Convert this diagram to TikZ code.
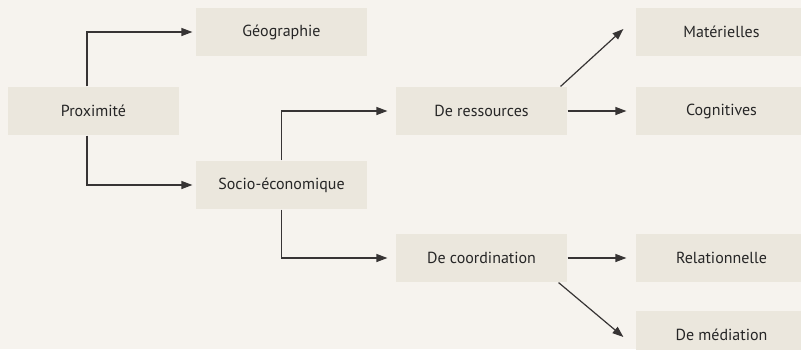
\documentclass[tikz,border=0pt]{standalone}
\usepackage{fontspec}
\setmainfont{PT Sans}
\usetikzlibrary{arrows.meta}
\definecolor{bgcol}{RGB}{246,243,238}
\definecolor{boxcol}{RGB}{235,231,221}
\definecolor{linecol}{RGB}{55,52,52}
\begin{document}
\begin{tikzpicture}[x=1pt, y=-1pt, line width=1.2pt, >={Triangle[length=11pt,width=8pt]},
		main/.style = {fill=boxcol, minimum width=171pt, minimum height=48pt, inner sep=0pt, font=\fontsize{16}{19}\selectfont, text=black!85}]
		\fill[bgcol] (0,0) rectangle (801,349);
		\useasboundingbox (0,0) rectangle (801,349);
		
		\node[main] (prox) at (93.5,111) {Proximité};
		\node[main] (geo) at (281.5,32) {Géographie};
		\node[main] (socio) at (281.5,185) {Socio-économique};
		
		\node[main] (res) at (481.5,111) {De ressources};
		\node[main] (coord) at (481.5,258) {De coordination};
		
		\node[main] (mat) at (721.5,32) {Matérielles};
		\node[main] (cog) at (721.5,111) {Cognitives};
		\node[main] (rel) at (721.5,258) {Relationnelle};
		\node[main] (med) at (721.5,335) {De médiation};
		
		
		\draw[->, linecol, shorten >=3pt] ([xshift=-6.5pt]prox.north) |- (geo);
		\draw[->, linecol, shorten >=3pt] ([xshift=-6.5pt]prox.south) |- (socio);
		\draw[->, linecol, shorten >=8pt] (socio) |- (res);
		\draw[->, linecol, shorten >=8pt] (socio) |- (coord);
		\draw[->, linecol, shorten >=9pt] (res) -- (cog);
		\draw[->, linecol, shorten >=9pt] (coord) -- (rel);
		\draw[->, linecol] ([xshift=-7pt]res.north east) -- ([xshift=-12pt, yshift=3pt]mat.west);
		\draw[->, linecol] ([xshift=-9pt]coord.south east) -- ([xshift=-12pt, yshift=-2pt]med.west);
		
		
	\end{tikzpicture}
\end{document}
